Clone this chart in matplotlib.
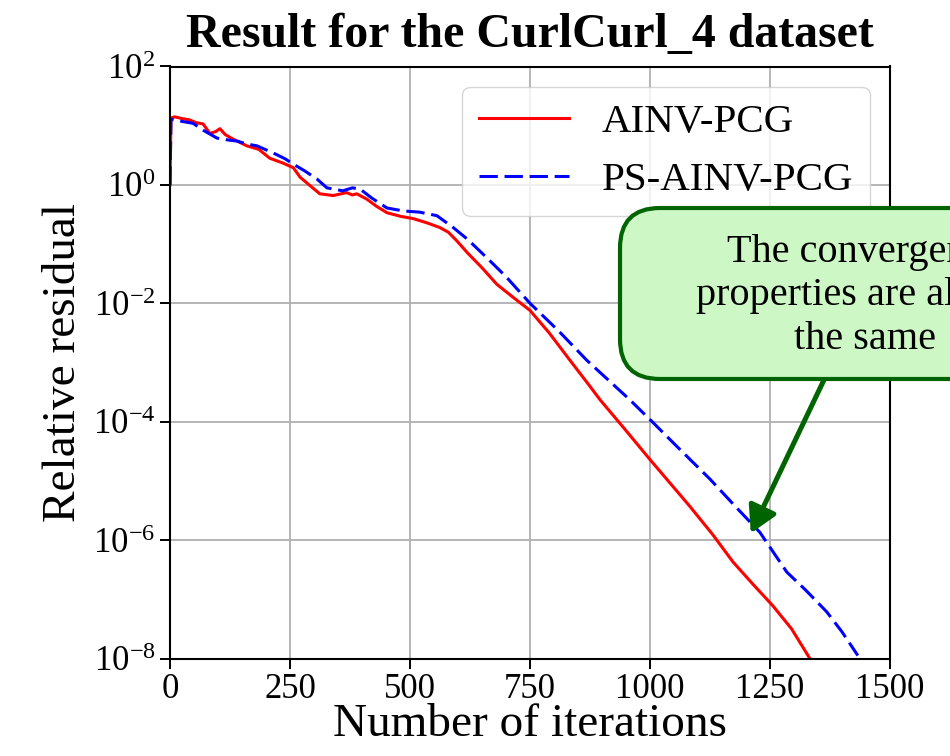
import matplotlib
matplotlib.use("Agg")
import matplotlib.pyplot as plt
from matplotlib.patches import FancyBboxPatch
from matplotlib.transforms import IdentityTransform
import numpy as np

plt.rcParams['font.family'] = 'serif'
plt.rcParams['font.serif'] = ['Liberation Serif', 'DejaVu Serif']
plt.rcParams['mathtext.fontset'] = 'stix'

# Data (iterations, log10 of relative residual)
ainv_iter = [0, 2, 10, 25, 40, 55, 69, 83, 95, 104, 115, 130, 160, 185, 208, 235, 257, 271,
             290, 312, 340, 368, 380, 389, 410, 430, 452, 480, 507, 535, 562, 580, 597, 620,
             650, 681, 715, 750, 790, 833, 870, 896, 950, 1000, 1040, 1083, 1130, 1173, 1215,
             1256, 1295, 1333]
ainv_log = [0.0, 1.13, 1.15, 1.12, 1.10, 1.05, 1.03, 0.87, 0.90, 0.95, 0.85, 0.78, 0.66, 0.60,
            0.45, 0.37, 0.29, 0.13, 0.0, -0.15, -0.18, -0.13, -0.17, -0.15, -0.24, -0.36, -0.47,
            -0.53, -0.57, -0.64, -0.72, -0.80, -0.94, -1.15, -1.40, -1.68, -1.90, -2.12, -2.50,
            -2.96, -3.35, -3.63, -4.15, -4.64, -5.02, -5.43, -5.90, -6.37, -6.75, -7.11, -7.50,
            -8.0]

ps_iter = [0, 2, 20, 48, 70, 98, 120, 140, 160, 181, 215, 240, 257, 280, 306, 327, 360, 380,
           396, 420, 452, 486, 520, 556, 590, 620, 660, 700, 750, 810, 868, 958, 1007, 1060,
           1125, 1180, 1229, 1285, 1325, 1368, 1400, 1433]
ps_log = [0.0, 1.11, 1.08, 1.04, 0.92, 0.79, 0.76, 0.74, 0.69, 0.66, 0.54, 0.44, 0.35, 0.24,
          0.10, -0.05, -0.10, -0.05, -0.07, -0.22, -0.39, -0.44, -0.46, -0.52, -0.72, -0.92,
          -1.23, -1.55, -2.00, -2.47, -2.96, -3.63, -4.02, -4.45, -4.97, -5.45, -5.87, -6.54,
          -6.85, -7.21, -7.55, -7.95]

labels = ['AINV-PCG', 'PS-AINV-PCG']
title = 'Result for the CurlCurl_4 dataset'
note = 'The convergence\nproperties are almost\nthe same'
arrow_tip = (1210, 10 ** -5.885)
arrow_start = (1368, 10 ** -3.2)

fig = plt.figure(figsize=(9.5, 7.56), dpi=100)
ax = fig.add_axes([170 / 950, 1 - 658.5 / 756, 720 / 950, 592 / 756])

ax.plot(ainv_iter, 10.0 ** np.array(ainv_log), color='red', lw=2.2, label=labels[0])
ax.plot(ps_iter, 10.0 ** np.array(ps_log), color='blue', lw=2.2, ls='--', dashes=(6, 2.2),
        label=labels[1])

ax.set_yscale('log')
ax.set_xlim(0, 1500)
ax.set_ylim(1e-8, 1e2)
ax.set_yticks([1e-8, 1e-6, 1e-4, 1e-2, 1e0, 1e2])
ax.yaxis.set_minor_locator(matplotlib.ticker.NullLocator())
ax.set_xticks([0, 250, 500, 750, 1000, 1250, 1500])
ax.grid(True, color='#b0b0b0', lw=1.3)
ax.tick_params(labelsize=25, length=7, width=1.4)
for s in ax.spines.values():
    s.set_linewidth(1.5)

ax.set_xlabel('Number of iterations', fontsize=34, labelpad=-2)
ax.set_ylabel('Relative residual', fontsize=34, labelpad=6)
ax.set_title(title, fontsize=34.5, fontweight='bold', pad=14)

ax.legend(loc='upper right', fontsize=29.5, handlelength=2.2)

ax.annotate('', xy=arrow_tip, xytext=arrow_start,
            arrowprops=dict(arrowstyle='-|>,head_length=1.6,head_width=0.9', color='darkgreen',
                            lw=3.6, shrinkA=0, shrinkB=0, mutation_scale=10),
            annotation_clip=False)

box = FancyBboxPatch((620, 756 - 379), 530, 171,
                     boxstyle='round,pad=0,rounding_size=40',
                     transform=IdentityTransform(), fc='#cdf7c4', ec='darkgreen', lw=3,
                     zorder=3)
fig.patches.append(box)
fig.text(865, 756 - 296, note, transform=IdentityTransform(), ha='center', va='center',
         multialignment='center', fontsize=29, linespacing=1.24, zorder=4)

fig.savefig('out.png', dpi=100)
